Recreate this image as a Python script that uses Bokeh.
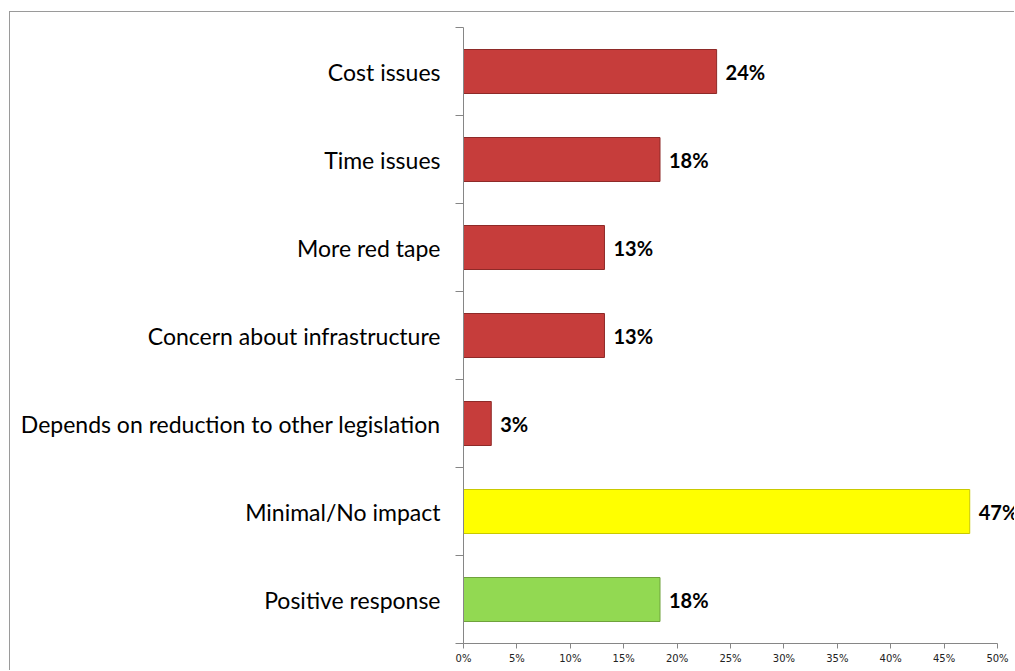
from bokeh.plotting import figure
from bokeh.models import ColumnDataSource, FixedTicker, PrintfTickFormatter, LabelSet
from bokeh.core.properties import value
from bokeh.embed import file_html
from bokeh.resources import INLINE

categories = ["Cost issues", "Time issues", "More red tape", "Concern about infrastructure",
              "Depends on reduction to other legislation", "Minimal/No impact", "Positive response"]
values = [23.7, 18.4, 13.2, 13.2, 2.6, 47.4, 18.4]
value_labels = ["24%", "18%", "13%", "13%", "3%", "47%", "18%"]
fill_colors = ["#C63D3B", "#C63D3B", "#C63D3B", "#C63D3B", "#C63D3B", "#FFFF00", "#92D952"]
line_colors = ["#8E2A28", "#8E2A28", "#8E2A28", "#8E2A28", "#8E2A28", "#C9C900", "#6FA23C"]
x_ticks = list(range(0, 55, 5))

n = len(categories)
ypos = [n - i - 0.5 for i in range(n)]

src = ColumnDataSource(dict(y=ypos, v=values, lab=value_labels, fc=fill_colors, lc=line_colors))

# frame spans from x=463 to the right edge; axis drawn only to 50%
px_per_unit = (997 - 463) / 50.0
x_end = (1015 - 463) / px_per_unit

p = figure(width=1005, height=659, output_backend="svg", toolbar_location=None,
           x_range=(0, x_end), y_range=(0, n),
           min_border_left=453, min_border_right=0, min_border_top=15, min_border_bottom=28)
p.styles = {"margin-left": "9px", "margin-top": "11px",
            "border-left": "1px solid #9a9a9a", "border-top": "1px solid #9a9a9a"}
p.outline_line_color = None
p.xgrid.visible = False
p.ygrid.visible = False
p.background_fill_color = "white"

p.hbar(y="y", left=0, right="v", height=0.5, source=src, fill_color="fc", line_color="lc", line_width=1)

labels = LabelSet(x="v", y="y", text="lab", source=src, x_offset=9, y_offset=0,
                  text_baseline="middle", text_align="left", text_font=value("Lato"),
                  text_font_style="bold", text_font_size="20px", text_color="black")
p.add_layout(labels)

# y axis
p.yaxis.ticker = FixedTicker(ticks=ypos, minor_ticks=list(range(0, n + 1)))
p.yaxis.major_label_overrides = {y: c for y, c in zip(ypos, categories)}
p.yaxis.major_tick_line_color = None
p.yaxis.major_tick_out = 0
p.yaxis.minor_tick_line_color = "#868686"
p.yaxis.minor_tick_out = 8
p.yaxis.minor_tick_in = 0
p.yaxis.axis_line_color = "#868686"
p.yaxis.major_label_text_font = "Lato"
p.yaxis.major_label_text_font_size = "23px"
p.yaxis.major_label_text_color = "black"
p.yaxis.major_label_standoff = 15

# x axis
p.xaxis.ticker = FixedTicker(ticks=x_ticks)
p.xaxis.bounds = (0, 50)
p.xaxis.formatter = PrintfTickFormatter(format="%d%%")
p.xaxis.axis_line_color = "#868686"
p.xaxis.major_tick_line_color = "#868686"
p.xaxis.major_tick_out = 5
p.xaxis.major_tick_in = 0
p.xaxis.minor_tick_line_color = None
p.xaxis.major_label_text_font = "DejaVu Sans"
p.xaxis.major_label_text_font_size = "10px"
p.xaxis.major_label_text_color = "#222222"
p.xaxis.major_label_standoff = 4

open("out.html", "w").write(file_html(p, INLINE))
